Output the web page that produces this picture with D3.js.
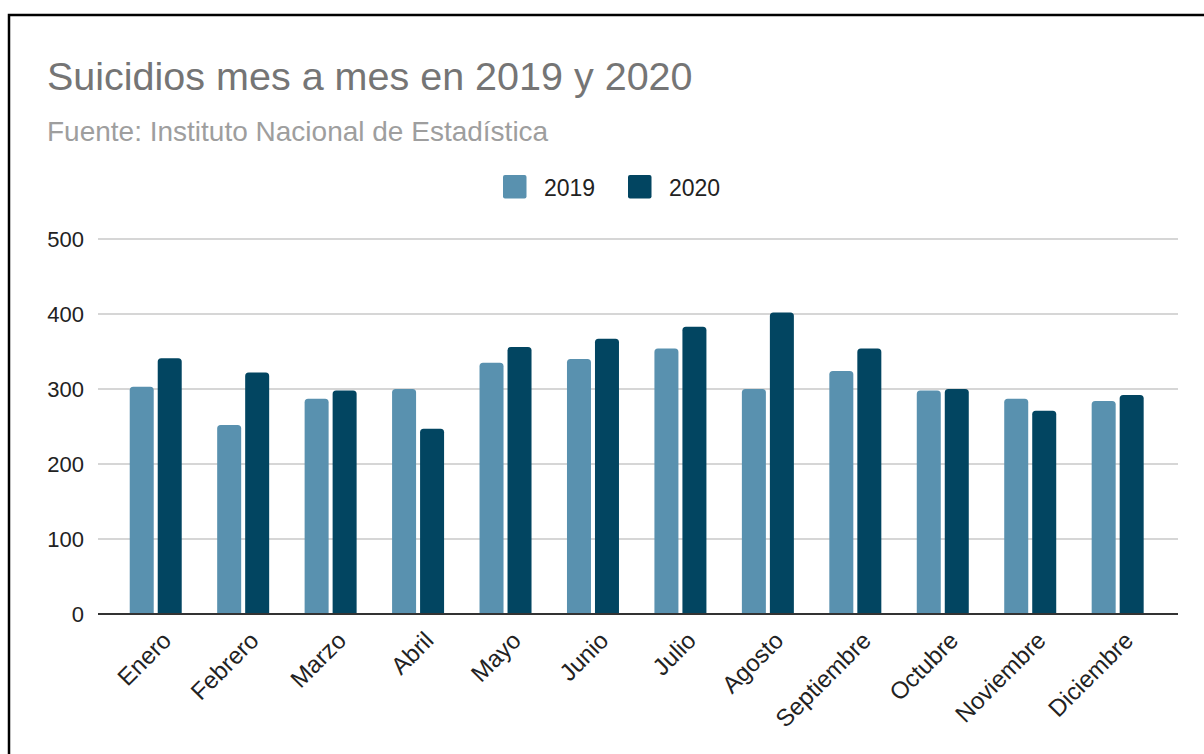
<!DOCTYPE html>
<html>
<head>
<meta charset="utf-8">
<script src="https://cdn.jsdelivr.net/npm/d3@7"></script>
<style>
  html, body { margin: 0; padding: 0; background: #fff; }
  svg { display: block; font-family: "Liberation Sans", Arial, sans-serif; }
</style>
</head>
<body>
<svg id="chart" width="1204" height="754"></svg>
<script>
// Monthly suicide counts, Spain (INE)
const months = ["Enero", "Febrero", "Marzo", "Abril", "Mayo", "Junio", "Julio",
                "Agosto", "Septiembre", "Octubre", "Noviembre", "Diciembre"];
const seriesNames = ["2019", "2020"];
const values2019 = [303, 252, 287, 300, 335, 340, 354, 300, 324, 298, 287, 284];
const values2020 = [341, 322, 298, 247, 356, 367, 383, 402, 354, 300, 271, 292];
const yTicks = [0, 100, 200, 300, 400, 500];

const colors = { "2019": "#5991af", "2020": "#024561" };

const svg = d3.select("#chart");

// frame
svg.append("rect")
  .attr("x", 9).attr("y", 15)
  .attr("width", 1260).attr("height", 800)
  .attr("fill", "none").attr("stroke", "#000").attr("stroke-width", 2.5);

// titles
svg.append("text")
  .attr("x", 47).attr("y", 90)
  .attr("font-size", 39.5).attr("fill", "#757575")
  .text("Suicidios mes a mes en 2019 y 2020");
svg.append("text")
  .attr("x", 47).attr("y", 141)
  .attr("font-size", 28).attr("fill", "#9e9e9e")
  .text("Fuente: Instituto Nacional de Estadística");

// scales
const plotLeft = 98, plotRight = 1178;
const y = d3.scaleLinear().domain([0, 500]).range([614, 239]);
const x0 = d3.scaleBand().domain(months).range([112, 1161.4]).padding(0);
const groupW = 52;
const x1 = d3.scaleBand().domain(seriesNames)
  .range([x0.bandwidth() / 2 - groupW / 2, x0.bandwidth() / 2 + groupW / 2])
  .paddingInner(1 / 7).paddingOuter(0);

// gridlines + y labels
const yAxis = d3.axisLeft(y).tickValues(yTicks).tickSize(0).tickPadding(14);
const gY = svg.append("g").attr("transform", `translate(${plotLeft},0)`).call(yAxis);
gY.select(".domain").remove();
gY.selectAll("text").attr("font-size", 22).attr("fill", "#222")
  .attr("font-family", "Liberation Sans, Arial, sans-serif");

svg.append("g").selectAll("line")
  .data(yTicks.filter(t => t > 0))
  .join("line")
  .attr("x1", plotLeft).attr("x2", plotRight)
  .attr("y1", d => y(d)).attr("y2", d => y(d))
  .attr("stroke", "#c8c8c8").attr("stroke-width", 1.5);

// bars with rounded top corners
function barPath(x, yTop, w, yBase, r) {
  const rr = Math.min(r, (yBase - yTop), w / 2);
  return `M${x},${yBase}V${yTop + rr}Q${x},${yTop} ${x + rr},${yTop}` +
         `H${x + w - rr}Q${x + w},${yTop} ${x + w},${yTop + rr}V${yBase}Z`;
}

const rows = months.map((m, i) => ({ month: m, vals: [
  { key: "2019", v: values2019[i] },
  { key: "2020", v: values2020[i] }
]}));

const groups = svg.append("g").selectAll("g")
  .data(rows).join("g")
  .attr("transform", d => `translate(${x0(d.month)},0)`);

groups.selectAll("path")
  .data(d => d.vals).join("path")
  .attr("d", d => barPath(x1(d.key), y(d.v), x1.bandwidth(), y(0), 3.5))
  .attr("fill", d => colors[d.key]);

// baseline
svg.append("line")
  .attr("x1", plotLeft).attr("x2", plotRight)
  .attr("y1", y(0)).attr("y2", y(0))
  .attr("stroke", "#333").attr("stroke-width", 2);

// x labels rotated
svg.append("g").selectAll("text")
  .data(months).join("text")
  .attr("transform", d => `translate(${x0(d) + x0.bandwidth() / 2 + 17},${y(0) + 28}) rotate(-45)`)
  .attr("text-anchor", "end")
  .attr("font-size", 24).attr("fill", "#222")
  .text(d => d);

// legend
const legend = svg.append("g");
const legendItems = [
  { key: "2019", x: 503 },
  { key: "2020", x: 628 }
];
legendItems.forEach(it => {
  legend.append("rect")
    .attr("x", it.x).attr("y", 175).attr("width", 23.5).attr("height", 23.5)
    .attr("rx", 2).attr("fill", colors[it.key]);
  legend.append("text")
    .attr("x", it.x + 41).attr("y", 195.5)
    .attr("font-size", 23).attr("fill", "#222")
    .text(it.key);
});
</script>
</body>
</html>
